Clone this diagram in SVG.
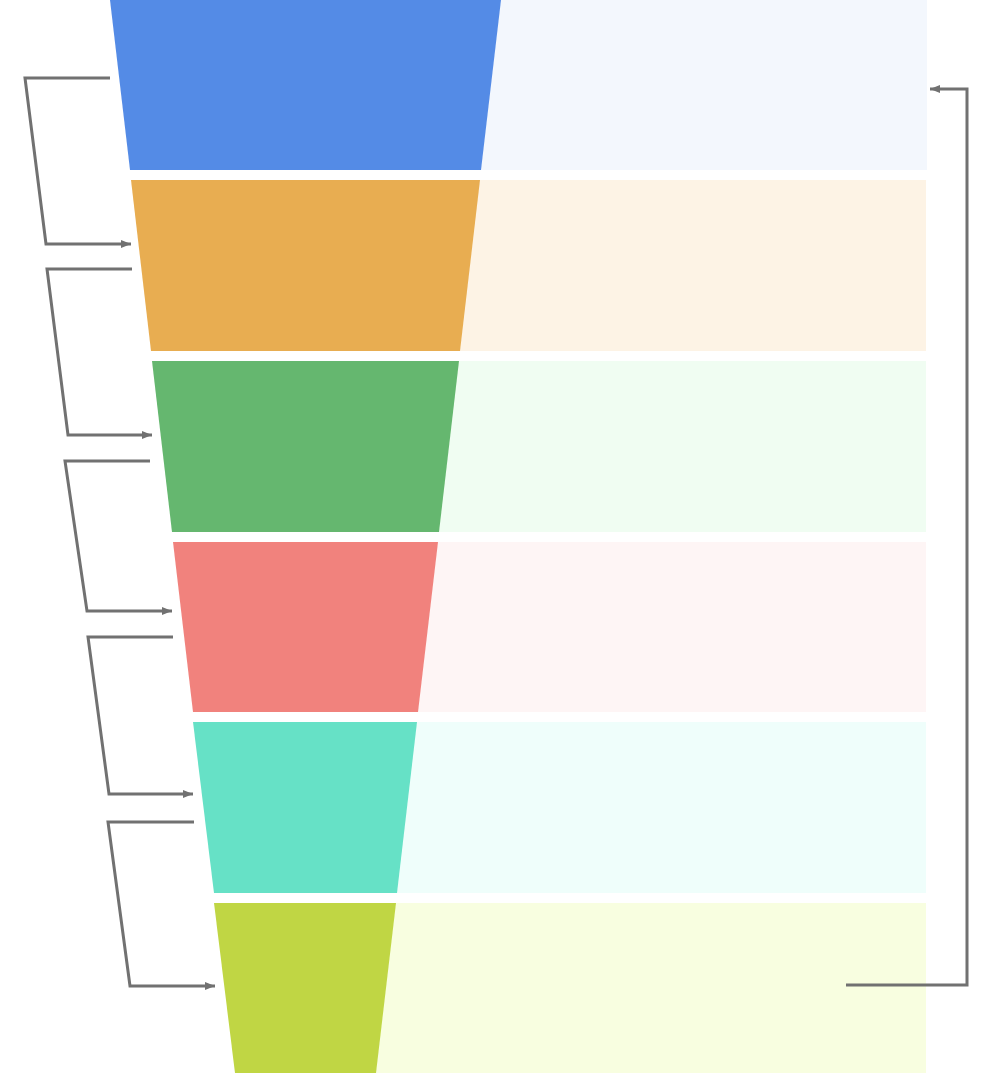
<svg xmlns="http://www.w3.org/2000/svg" width="997" height="1073" viewBox="0 0 997 1073">
<defs>
<style>
.conn{fill:none;stroke:#717171;stroke-width:3;stroke-linejoin:miter}
</style>
<marker id="ah" markerWidth="10" markerHeight="8" refX="10" refY="4" orient="auto" markerUnits="userSpaceOnUse">
<path d="M0,0 L10,4 L0,8 Z" fill="#717171"/>
</marker>
</defs>
<rect width="997" height="1073" fill="#ffffff"/>
<g id="stage1">
<rect x="300" y="0" width="627" height="170" fill="#F3F7FD"/>
<polygon points="110,0 501,0 481,170 130,170" fill="#548BE6"/>
</g>
<g id="stage2">
<rect x="300" y="180" width="626" height="171" fill="#FDF3E5"/>
<polygon points="131,180 480,180 460,351 151,351" fill="#E8AD51"/>
</g>
<g id="stage3">
<rect x="300" y="361" width="626" height="171" fill="#F0FDF2"/>
<polygon points="152,361 459,361 439,532 172,532" fill="#65B76F"/>
</g>
<g id="stage4">
<rect x="300" y="542" width="626" height="170" fill="#FEF5F5"/>
<polygon points="173,542 438,542 418,712 193,712" fill="#F1827D"/>
</g>
<g id="stage5">
<rect x="300" y="722" width="626" height="171" fill="#EFFEFB"/>
<polygon points="193,722 417,722 397,893 214,893" fill="#66E1C6"/>
</g>
<g id="stage6">
<rect x="300" y="903" width="626" height="170" fill="#F8FEE0"/>
<polygon points="214,903 396,903 376,1073 235,1073" fill="#C0D644"/>
</g>
<g id="connectors">
<polyline class="conn" points="110,78 25,78 46,244 131,244" marker-end="url(#ah)"/>
<polyline class="conn" points="132,269 47,269 68,435 152,435" marker-end="url(#ah)"/>
<polyline class="conn" points="150,461 65,461 87,611 172,611" marker-end="url(#ah)"/>
<polyline class="conn" points="173,637 88,637 109,794 193,794" marker-end="url(#ah)"/>
<polyline class="conn" points="194,822 108,822 130,986 215,986" marker-end="url(#ah)"/>
<polyline class="conn" points="846,985 967,985 967,89 930,89" marker-end="url(#ah)"/>
</g>
</svg>
